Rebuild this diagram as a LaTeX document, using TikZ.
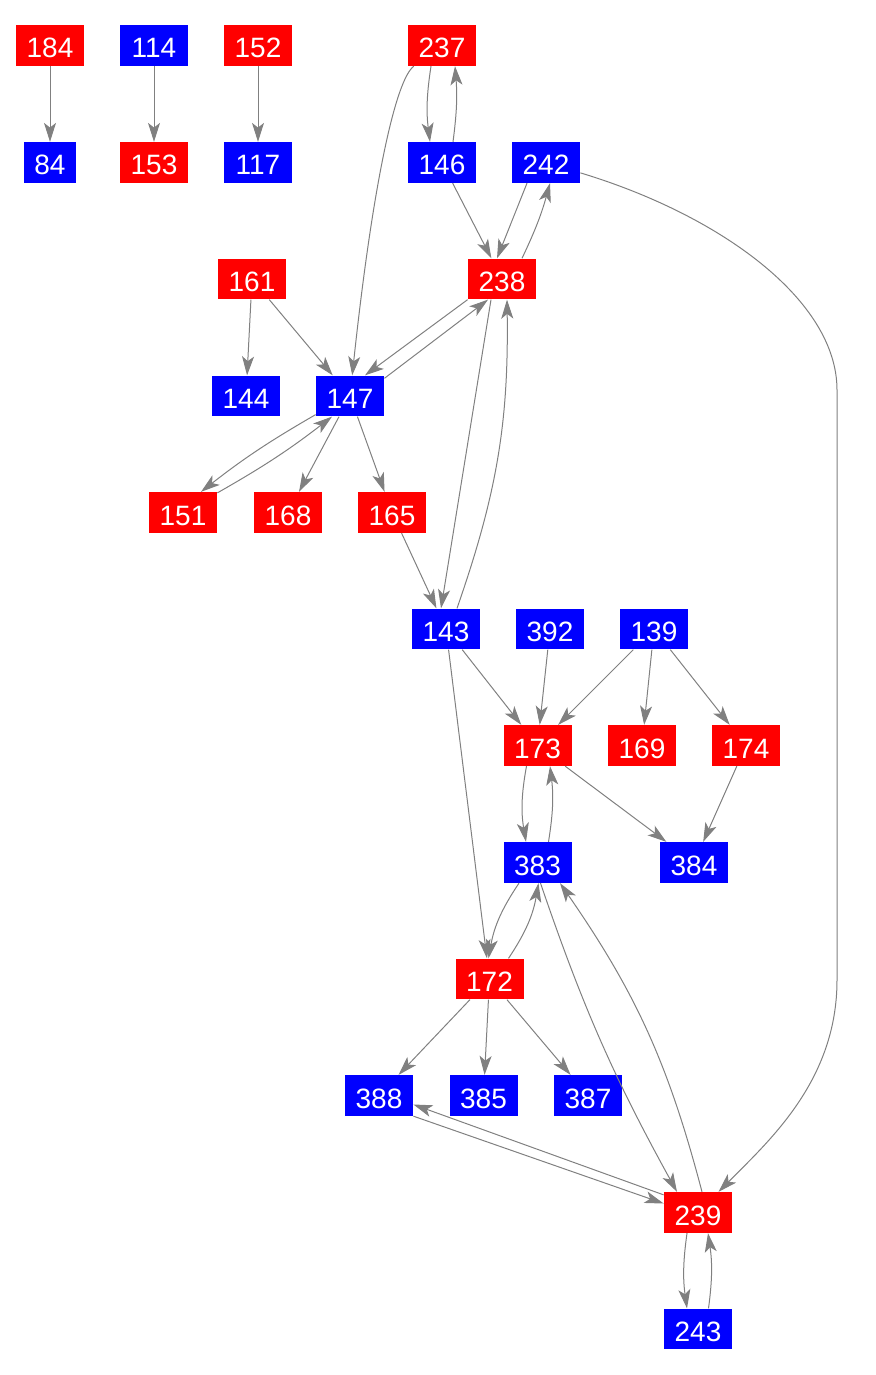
\documentclass[tikz,border=0pt]{standalone}
\usepackage{fontspec}
\setmainfont{Liberation Sans}
\usetikzlibrary{arrows.meta,calc}
\definecolor{nred}{RGB}{255,0,0}
\definecolor{nblue}{RGB}{0,0,255}
\definecolor{edgegray}{RGB}{128,128,128}
\begin{document}
\begin{tikzpicture}[x=0.5pt,y=-0.5pt,
  vbox/.style={rectangle, minimum width=34pt, minimum height=20.25pt, inner sep=0pt,
    text=white, text height=12.5pt, text depth=0pt, font=\fontsize{14pt}{14pt}\selectfont},
  rbox/.style={vbox, fill=nred},
  bbox/.style={vbox, fill=nblue},
  narrow/.style={minimum width=26pt},
  link/.style={draw=edgegray, line width=0.5pt, -{Stealth[length=9.5pt,width=6pt,inset=2.4pt]}},
]
\useasboundingbox (0,0) rectangle (875,1375);
% row 1
\node[rbox] (n184) at (50,45.5) {184};
\node[bbox] (n114) at (154,45.5) {114};
\node[rbox] (n152) at (258,45.5) {152};
\node[rbox] (n237) at (442,45.5) {237};
% row 2
\node[bbox,narrow] (n84) at (50,162.5) {84};
\node[rbox] (n153) at (154,162.5) {153};
\node[bbox] (n117) at (258,162.5) {117};
\node[bbox] (n146) at (442,162.5) {146};
\node[bbox] (n242) at (546,162.5) {242};
% row 3
\node[rbox] (n161) at (252,279) {161};
\node[rbox] (n238) at (502,279) {238};
% row 4
\node[bbox] (n144) at (246,396) {144};
\node[bbox] (n147) at (350,396) {147};
% row 5
\node[rbox] (n151) at (183,512.5) {151};
\node[rbox] (n168) at (288,512.5) {168};
\node[rbox] (n165) at (392,512.5) {165};
% row 6
\node[bbox] (n143) at (446,629) {143};
\node[bbox] (n392) at (550,629) {392};
\node[bbox] (n139) at (654,629) {139};
% row 7
\node[rbox] (n173) at (537.5,745.5) {173};
\node[rbox] (n169) at (642,745.5) {169};
\node[rbox] (n174) at (746,745.5) {174};
% row 8
\node[bbox] (n383) at (537.5,862.5) {383};
\node[bbox] (n384) at (694,862.5) {384};
% row 9
\node[rbox] (n172) at (489.5,979) {172};
% row 10
\node[bbox] (n388) at (379,1095.5) {388};
\node[bbox] (n385) at (483.5,1095.5) {385};
\node[bbox] (n387) at (588,1095.5) {387};
% row 11-12
\node[rbox] (n239) at (698,1212.5) {239};
\node[bbox] (n243) at (698,1329) {243};

% simple edges
\draw[link] (n184) -- (n84);
\draw[link] (n114) -- (n153);
\draw[link] (n152) -- (n117);
\draw[link] (n146) -- (n238);
\draw[link] (n161) -- (n144);
\draw[link] (n161) -- (n147);
\draw[link] (n147) -- (n168);
\draw[link] (n147) -- (n165);
\draw[link] (n165) -- (n143);
\draw[link] (n143) -- (n173);
\draw[link] (n392) -- (n173);
\draw[link] (n139) -- (n173);
\draw[link] (n139) -- (n169);
\draw[link] (n139) -- (n174);
\draw[link] (n143) -- (n172);
\draw[link] (n173) -- (n384);
\draw[link] (n174) -- (n384);
\draw[link] (n172) -- (n388);
\draw[link] (n172) -- (n385);
\draw[link] (n172) -- (n387);

% long curves
\draw[link] (n237) .. controls (395,80) and (372,190) .. (n147);
\draw[link] (n242) .. controls (720,215) and (837,300) .. (837,390) -- (837,980)
  .. controls (837,1080) and (770,1140) .. (n239);

% pairs
\draw[link] ($(n237.south)+(-11,0)$) to[bend right=8] ($(n146.north)+(-12,0)$);
\draw[link] ($(n146.north)+(11,0)$) to[bend right=6] ($(n237.south)+(13,0)$);

\draw[link] ($(n242.south)+(-19,0)$) -- ($(n238.north)+(-5,0)$);
\draw[link] ($(n238.north)+(20,0)$) to[bend right=5] ($(n242.south)+(4,0)$);

\draw[link] (n238.south west) -- ($(n147.north)+(15,0)$);
\draw[link] ($(n147.north east)+(0,3)$) -- ($(n238.south)+(-14,0)$);

\draw[link] ($(n238.south)+(-11,0)$) -- ($(n143.north)+(-5,0)$);
\draw[link] ($(n143.north)+(11,0)$) to[bend right=10] ($(n238.south)+(5,0)$);

\draw[link] ($(n147.south west)+(0,-2)$) to[bend right=4] ($(n151.north)+(18,0)$);
\draw[link] ($(n151.north east)+(0,1)$) to[bend right=4] ($(n147.south)+(-18,0)$);

\draw[link] ($(n173.south)+(-11,0)$) to[bend right=10] ($(n383.north)+(-11.5,0)$);
\draw[link] ($(n383.north)+(11,0)$) to[bend right=8] ($(n173.south)+(12.5,0)$);

\draw[link] ($(n383.south)+(-18.5,0)$) to[bend right=12] ($(n172.north)+(-1,0)$);
\draw[link] ($(n172.north)+(19,0)$) to[bend right=12] ($(n383.south)+(1,0)$);

\draw[link] ($(n383.south)+(3,0)$) to[bend right=5] ($(n239.north)+(-21,0)$);
\draw[link] ($(n239.north)+(4,0)$) to[bend right=10] ($(n383.south)+(22.5,0)$);

\draw[link] (n388.south east) -- ($(n239.west)+(0,-9)$);
\draw[link] ($(n239.north west)+(0,3)$) -- ($(n388.east)+(0,9)$);

\draw[link] ($(n239.south)+(-11,0)$) to[bend right=8] ($(n243.north)+(-11,0)$);
\draw[link] ($(n243.north)+(10.5,0)$) to[bend right=8] ($(n239.south)+(10,0)$);
\end{tikzpicture}
\end{document}
